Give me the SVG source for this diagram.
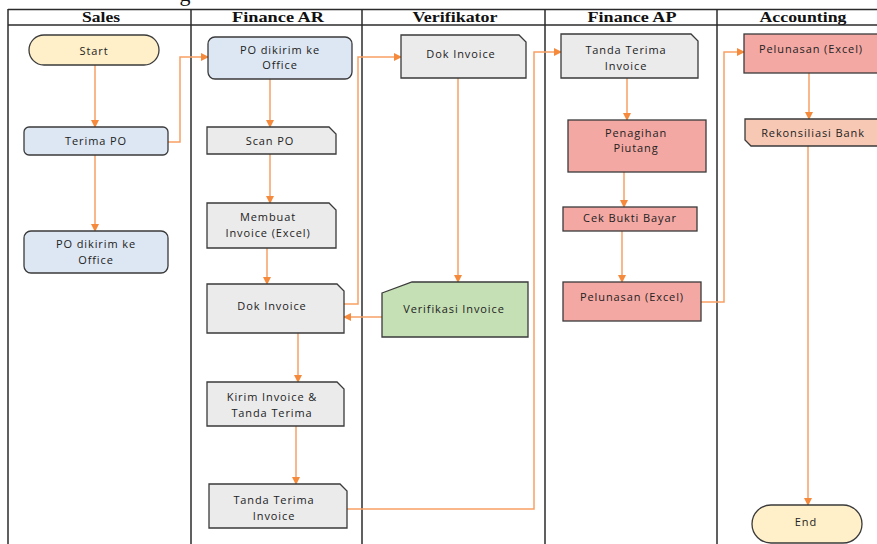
<svg xmlns="http://www.w3.org/2000/svg" width="877" height="544" viewBox="0 0 877 544">
<defs>
<marker id="ah" markerWidth="8" markerHeight="8" refX="7" refY="4" orient="auto" markerUnits="userSpaceOnUse">
<path d="M0,0 L8,4 L0,8 Z" fill="#F58A3C"/>
</marker>
<style>
.lane{stroke:#2b2b2b;stroke-width:1.5;fill:none}
.hd{font-family:"Liberation Serif","Times New Roman",serif;font-weight:bold;font-size:15.5px;fill:#111;text-anchor:middle}
.t{font-family:"Open Sans","DejaVu Sans",sans-serif;font-size:11px;letter-spacing:0.9px;fill:#222;text-anchor:middle}
.n{stroke:#3a3a3a;stroke-width:1.3}
.gray{fill:#EBEBEB}
.blue{fill:#DCE7F3}
.yel{fill:#FFF0C9}
.grn{fill:#C5E0B4}
.sal{fill:#F4A8A3}
.pch{fill:#F7C9B5}
.c{fill:none;stroke:#F7A064;stroke-width:1.5;marker-end:url(#ah)}
</style>
</defs>
<rect width="877" height="544" fill="#fff"/>
<text x="185" y="1" font-family="Liberation Serif, serif" font-size="22" fill="#111" text-anchor="middle">g</text>
<g id="lanes">
<line class="lane" x1="8" y1="9.5" x2="877" y2="9.5" stroke="#555"/>
<line class="lane" x1="8" y1="25" x2="877" y2="25"/>
<line class="lane" x1="8" y1="9" x2="8" y2="544"/>
<line class="lane" x1="191" y1="9" x2="191" y2="544"/>
<line class="lane" x1="362" y1="9" x2="362" y2="544"/>
<line class="lane" x1="545" y1="9" x2="545" y2="544"/>
<line class="lane" x1="717" y1="9" x2="717" y2="544"/>
<text class="hd" x="101" y="22" textLength="38" lengthAdjust="spacingAndGlyphs">Sales</text>
<text class="hd" x="278" y="22" textLength="92" lengthAdjust="spacingAndGlyphs">Finance AR</text>
<text class="hd" x="455" y="22" textLength="85" lengthAdjust="spacingAndGlyphs">Verifikator</text>
<text class="hd" x="632" y="22" textLength="89" lengthAdjust="spacingAndGlyphs">Finance AP</text>
<text class="hd" x="803" y="22" textLength="87" lengthAdjust="spacingAndGlyphs">Accounting</text>
</g>
<g id="connectors">
<path class="c" d="M95,65 V127"/>
<path class="c" d="M95,155 V231"/>
<path class="c" d="M168,142 H180 V57 H208"/>
<path class="c" d="M270,79 V127"/>
<path class="c" d="M270,154 V203"/>
<path class="c" d="M267,248 V284"/>
<path class="c" d="M344,304 H358 V57 H401"/>
<path class="c" d="M458,78 V282"/>
<path class="c" d="M382,317 H344"/>
<path class="c" d="M298,333 V382"/>
<path class="c" d="M296,426 V484"/>
<path class="c" d="M347,509 H534 V52 H561"/>
<path class="c" d="M627,78 V120"/>
<path class="c" d="M624,172 V207"/>
<path class="c" d="M622,231 V282"/>
<path class="c" d="M701,302 H724 V52 H744"/>
<path class="c" d="M809,73 V119"/>
<path class="c" d="M808,146 V505"/>
</g>
<g id="start">
<rect class="n yel" x="29" y="35" width="130" height="30" rx="15"/>
<text class="t" x="94" y="55">Start</text>
</g>
<g id="terima-po">
<rect class="n blue" x="24" y="127" width="144" height="28" rx="5"/>
<text class="t" x="96" y="145">Terima PO</text>
</g>
<g id="po-dikirim-sales">
<rect class="n blue" x="24" y="231" width="144" height="42" rx="7"/>
<text class="t" x="96" y="248">PO dikirim ke</text>
<text class="t" x="96" y="264">Office</text>
</g>
<g id="po-dikirim-ar">
<rect class="n blue" x="208" y="37" width="144" height="42" rx="7"/>
<text class="t" x="280" y="54">PO dikirim ke</text>
<text class="t" x="280" y="69">Office</text>
</g>
<g id="scan-po">
<path class="n gray" d="M207,127 H329 L336,134 V154 H207 Z"/>
<text class="t" x="270" y="145">Scan PO</text>
</g>
<g id="membuat-invoice">
<path class="n gray" d="M207,203 H329 L336,210 V248 H207 Z"/>
<text class="t" x="268" y="221">Membuat</text>
<text class="t" x="268" y="237">Invoice (Excel)</text>
</g>
<g id="dok-invoice-ar">
<path class="n gray" d="M207,284 H337 L344,291 V333 H207 Z"/>
<text class="t" x="272" y="310">Dok Invoice</text>
</g>
<g id="kirim-invoice">
<path class="n gray" d="M207,382 H337 L344,389 V426 H207 Z"/>
<text class="t" x="272" y="401">Kirim Invoice &amp;</text>
<text class="t" x="272" y="417">Tanda Terima</text>
</g>
<g id="tanda-terima-ar">
<path class="n gray" d="M209,484 H340 L347,491 V528 H209 Z"/>
<text class="t" x="274" y="504">Tanda Terima</text>
<text class="t" x="274" y="520">Invoice</text>
</g>
<g id="dok-invoice-verif">
<path class="n gray" d="M401,35 H519 L526,42 V78 H401 Z"/>
<text class="t" x="461" y="58">Dok Invoice</text>
</g>
<g id="verifikasi-invoice">
<path class="n grn" d="M382,293 L412,282 H528 V337 H382 Z"/>
<text class="t" x="454" y="313">Verifikasi Invoice</text>
</g>
<g id="tanda-terima-ap">
<path class="n gray" d="M561,34 H691 L698,41 V78 H561 Z"/>
<text class="t" x="626" y="54">Tanda Terima</text>
<text class="t" x="626" y="70">Invoice</text>
</g>
<g id="penagihan-piutang">
<rect class="n sal" x="568" y="120" width="138" height="52"/>
<text class="t" x="636" y="137">Penagihan</text>
<text class="t" x="636" y="152">Piutang</text>
</g>
<g id="cek-bukti-bayar">
<rect class="n sal" x="563" y="207" width="134" height="24"/>
<text class="t" x="630" y="222">Cek Bukti Bayar</text>
</g>
<g id="pelunasan-ap">
<rect class="n sal" x="563" y="282" width="138" height="39"/>
<text class="t" x="632" y="301">Pelunasan (Excel)</text>
</g>
<g id="pelunasan-acc">
<rect class="n sal" x="744" y="34" width="140" height="39"/>
<text class="t" x="811" y="53">Pelunasan (Excel)</text>
</g>
<g id="rekonsiliasi-bank">
<path class="n pch" d="M745,119 H884 V146 H751 L745,140 Z"/>
<text class="t" x="813" y="137">Rekonsiliasi Bank</text>
</g>
<g id="end">
<rect class="n yel" x="752" y="505" width="110" height="38" rx="19"/>
<text class="t" x="806" y="526">End</text>
</g>
</svg>
